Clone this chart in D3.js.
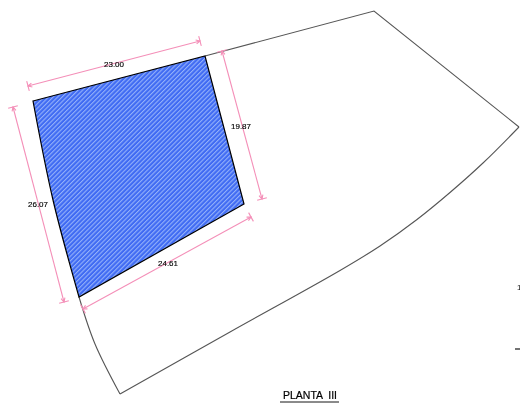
<!DOCTYPE html>
<html>
<head>
<meta charset="utf-8">
<script src="https://cdn.jsdelivr.net/npm/d3@7"></script>
<style>
  html, body { margin: 0; padding: 0; background: #fff; }
  svg { display: block; }
  text { font-family: "Liberation Sans", Arial, sans-serif; }
</style>
</head>
<body>
<svg id="plan"></svg>
<script>
// plan points (drawing units)
const plotCorners = [[33, 101], [205, 56], [244, 204], [79, 297]];
const plotWestEdge = [[79, 297], [53, 200], [33, 101]];
const outlineNorth = [[205, 56], [374, 11], [519, 127]];
const outlineSouth = [[519, 127], [483, 163], [450, 192.5], [417, 219.5], [380, 246], [340, 270.5], [230, 332], [120, 394]];
const outlineWest = [[120, 394], [95, 344], [79, 297]];

// dimension lines: from, to, label, label position
const dimFrom = [[28, 86], [222, 51], [13, 107], [83, 309]];
const dimTo = [[200, 41], [262, 199], [64, 302], [251, 217]];
const dimLabels = ["23.00", "19.87", "26.07", "24.61"];
const dimLabelAt = [[114, 64], [241, 126], [38, 204], [168, 263]];

const width = 520;
const height = 403;

const x = d3.scaleLinear().domain([0, 520]).range([0, width]);
const y = d3.scaleLinear().domain([0, 403]).range([0, height]);

const svg = d3.select("#plan")
  .attr("width", width)
  .attr("height", height)
  .attr("viewBox", `0 0 ${width} ${height}`);

const defs = svg.append("defs");
defs.append("filter").attr("id", "soft")
  .append("feGaussianBlur").attr("stdDeviation", 0.35);

const hatch = defs.append("pattern")
  .attr("id", "hatch")
  .attr("patternUnits", "userSpaceOnUse")
  .attr("width", 3.2)
  .attr("height", 3.2)
  .attr("patternTransform", "rotate(-45)");
hatch.append("rect").attr("width", 3.2).attr("height", 3.2).attr("fill", "#3f6bf3");
hatch.append("rect").attr("width", 3.2).attr("height", 1.1).attr("fill", "#94b1fa");

const straight = d3.line().x(d => x(d[0])).y(d => y(d[1]));
const curved = d3.line().x(d => x(d[0])).y(d => y(d[1])).curve(d3.curveCatmullRom.alpha(0.5));

const g = svg.append("g").attr("filter", "url(#soft)");

// outer outline
g.selectAll("path.outline")
  .data([[outlineNorth, straight], [outlineSouth, curved], [outlineWest, curved]])
  .enter()
  .append("path")
  .attr("class", "outline")
  .attr("d", d => d[1](d[0]))
  .attr("fill", "none")
  .attr("stroke", "#555")
  .attr("stroke-width", 1.1);

// hatched plot, the west side follows the curve
const plotPath = straight(plotCorners) + curved(plotWestEdge).replace(/^M[^C]*/, "");
g.append("path")
  .attr("d", plotPath + "Z")
  .attr("fill", "url(#hatch)")
  .attr("stroke", "#000")
  .attr("stroke-width", 1.2)
  .attr("stroke-linejoin", "miter");

// dimension lines
const pink = "#f48fb8";
dimFrom.forEach((from, i) => {
  const to = dimTo[i];
  const x0 = x(from[0]), y0 = y(from[1]), x1 = x(to[0]), y1 = y(to[1]);
  const len = Math.hypot(x1 - x0, y1 - y0);
  const ux = (x1 - x0) / len, uy = (y1 - y0) / len;
  const dim = g.append("g").attr("stroke", pink).attr("stroke-width", 1.1).attr("fill", "none");
  dim.append("line").attr("x1", x0).attr("y1", y0).attr("x2", x1).attr("y2", y1);
  [[x0, y0, 1], [x1, y1, -1]].forEach(([px, py, s]) => {
    // end bar across the line, plus a small arrow head
    dim.append("line")
      .attr("x1", px - uy * 5).attr("y1", py + ux * 5)
      .attr("x2", px + uy * 5).attr("y2", py - ux * 5);
    dim.append("path")
      .attr("d", d3.line()([
        [px + s * ux * 4 - uy * 2, py + s * uy * 4 + ux * 2],
        [px, py],
        [px + s * ux * 4 + uy * 2, py + s * uy * 4 - ux * 2]
      ]));
  });
});

g.selectAll("text.dim")
  .data(dimLabels)
  .enter()
  .append("text")
  .attr("class", "dim")
  .attr("x", (d, i) => x(dimLabelAt[i][0]))
  .attr("y", (d, i) => y(dimLabelAt[i][1]))
  .attr("dy", "0.35em")
  .attr("text-anchor", "middle")
  .attr("font-size", 8)
  .attr("fill", "#000")
  .attr("stroke", "#000")
  .attr("stroke-width", 0.15)
  .text(d => d);

// title and the cut off bits at the right edge
g.append("text")
  .attr("x", x(310))
  .attr("y", y(399))
  .attr("text-anchor", "middle")
  .attr("font-size", 10.5)
  .attr("fill", "#000")
  .attr("stroke", "#000")
  .attr("stroke-width", 0.2)
  .style("white-space", "pre")
  .text("PLANTA  III");
g.append("line")
  .attr("x1", x(280)).attr("x2", x(339))
  .attr("y1", y(402)).attr("y2", y(402))
  .attr("stroke", "#111").attr("stroke-width", 1);

g.append("text")
  .attr("x", x(517))
  .attr("y", y(290))
  .attr("font-size", 8)
  .attr("fill", "#111")
  .text("1");
g.append("line")
  .attr("x1", x(515)).attr("x2", x(520))
  .attr("y1", y(349)).attr("y2", y(349))
  .attr("stroke", "#000").attr("stroke-width", 1.1);
</script>
</body>
</html>
